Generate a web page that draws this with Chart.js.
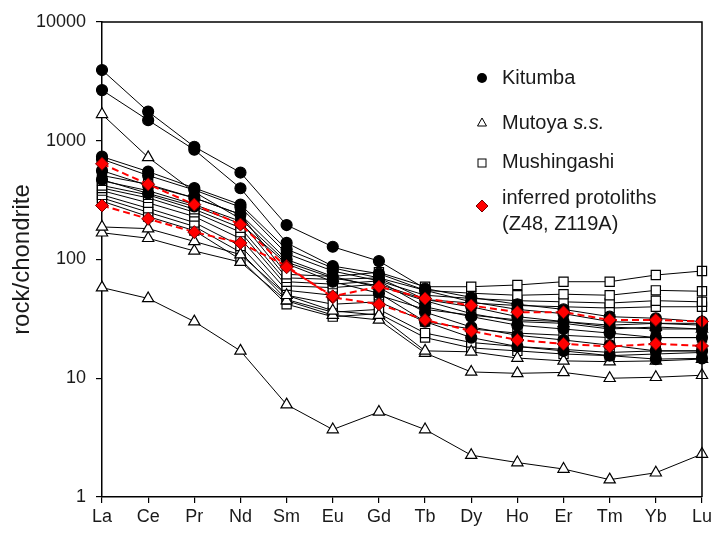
<!DOCTYPE html>
<html>
<head>
<meta charset="utf-8">
<script src="https://cdn.jsdelivr.net/npm/chart.js@4"></script>
<style>
  html, body { margin: 0; padding: 0; background: #fff; }
  #chart { display: block; }
</style>
</head>
<body>
<canvas id="chart" width="715" height="536"></canvas>
<script>
// Elements (x categories) and y ticks
const elements = ['La', 'Ce', 'Pr', 'Nd', 'Sm', 'Eu', 'Gd', 'Tb', 'Dy', 'Ho', 'Er', 'Tm', 'Yb', 'Lu'];
const yTicks = [1, 10, 100, 1000, 10000];

// Kitumba (filled circles)
const kitumba1 = [3940, 1760, 890, 540, 195, 128, 97, 57, 48, 42, 38, 33, 32, 30];
const kitumba2 = [2670, 1490, 840, 398, 138, 88, 76, 55, 44, 38, 35, 30, 29, 28];
const kitumba3 = [735, 550, 400, 290, 122, 85, 70, 46, 40, 33, 30, 27, 26, 26];
const kitumba4 = [700, 510, 385, 276, 112, 80, 66, 40, 33, 28, 26, 24, 22, 22];
const kitumba5 = [560, 420, 330, 240, 100, 72, 58, 36, 27, 23, 21, 19, 17, 17];
const kitumba6 = [470, 360, 280, 200, 92, 65, 52, 30, 22, 18.5, 17, 15.5, 14.5, 14.7];

// Mutoya s.s. (open triangles)
const mutoya1 = [1670, 725, 370, 220, 95, 70, 60, 45, 35, 30, 29, 26, 27, 26];
const mutoya2 = [188, 182, 142, 110, 50, 37, 34, 17, 16.7, 14.8, 14, 13.8, 14, 14.5];
const mutoya3 = [168, 151, 118, 95, 45, 34, 31, 16.3, 11.3, 11, 11.2, 10, 10.2, 10.6];
const mutoya4 = [58, 47, 30, 17, 6, 3.7, 5.2, 3.7, 2.25, 1.95, 1.72, 1.4, 1.6, 2.3];

// Mushingashi (open squares)
const mush1 = [510, 430, 330, 240, 75, 72, 78, 59, 59, 61, 65, 65, 74, 80];
const mush2 = [460, 380, 290, 210, 70, 68, 70, 55, 52, 50, 51, 50, 55, 54];
const mush3 = [420, 350, 265, 185, 65, 62, 66, 50, 47, 45, 44, 43, 45, 44];
const mush4 = [400, 330, 250, 170, 60, 58, 62, 46, 43, 41, 40, 39, 40, 40];
const mush5 = [380, 300, 230, 150, 55, 50, 50, 38, 34, 31, 30, 28, 29, 29];
const mush6 = [350, 270, 205, 130, 50, 42, 44, 30, 26, 24, 23, 22, 22, 22];
const mush7 = [330, 250, 190, 115, 46, 36, 38, 24, 20, 18.5, 17.5, 16.5, 17, 17];
const mush8 = [310, 230, 175, 100, 42, 33, 35, 22, 18, 17, 16, 15.5, 16, 16.5];

// inferred protoliths (red diamonds, dashed)
const protolithZ48 = [640, 430, 290, 197, 86, 49, 59, 47, 41, 36, 36, 31, 31, 30];
const protolithZ119A = [285, 220, 170, 138, 88, 48, 42, 31, 25, 21, 19.5, 18.5, 19.5, 18.7];

const FONT = "'Liberation Sans', Arial, sans-serif";

function series(data, style, order) {
    const base = {
        data: data,
        borderColor: '#000',
        borderWidth: 1,
        pointBorderWidth: 1.2,
        pointBorderColor: '#000',
        tension: 0,
        order: order
    };
    if (style === 'circle') {
        return Object.assign(base, { pointStyle: 'circle', pointRadius: 5.5, pointBackgroundColor: '#000' });
    }
    if (style === 'triangle') {
        return Object.assign(base, { pointStyle: 'triangle', pointRadius: 6.5, pointBackgroundColor: '#fff' });
    }
    if (style === 'rect') {
        return Object.assign(base, { pointStyle: 'rect', pointRadius: 6.5, pointBackgroundColor: '#fff' });
    }
    // protolith
    return Object.assign(base, {
        borderColor: '#f00', borderWidth: 2, borderDash: [7, 4],
        pointStyle: 'rectRot', pointRadius: 6.5, pointBackgroundColor: '#f00',
        pointBorderColor: '#700', pointBorderWidth: 1
    });
}

const datasets = [
    ...[mush1, mush2, mush3, mush4, mush5, mush6, mush7, mush8].map(d => series(d, 'rect', 4)),
    ...[mutoya1, mutoya2, mutoya3, mutoya4].map(d => series(d, 'triangle', 3)),
    ...[kitumba1, kitumba2, kitumba3, kitumba4, kitumba5, kitumba6].map(d => series(d, 'circle', 2)),
    ...[protolithZ48, protolithZ119A].map(d => series(d, 'diamond', 1))
];

// frame on top and right
const framePlugin = {
    id: 'frame',
    afterDraw(chart) {
        const { ctx, chartArea: a } = chart;
        ctx.save();
        ctx.strokeStyle = '#000';
        ctx.lineWidth = 1.5;
        ctx.beginPath();
        ctx.moveTo(a.left, a.top);
        ctx.lineTo(a.right, a.top);
        ctx.lineTo(a.right, a.bottom);
        ctx.stroke();
        ctx.restore();
    }
};

// legend drawn in the upper right
const legendPlugin = {
    id: 'customLegend',
    afterDraw(chart) {
        const ctx = chart.ctx;
        const mx = 482, tx = 502;
        ctx.save();
        ctx.fillStyle = '#1a1a1a';
        ctx.textBaseline = 'middle';
        ctx.font = '20px ' + FONT;

        // Kitumba
        ctx.beginPath();
        ctx.arc(mx, 78, 5, 0, Math.PI * 2);
        ctx.fillStyle = '#000';
        ctx.fill();
        ctx.fillStyle = '#1a1a1a';
        ctx.fillText('Kitumba', tx, 78);

        // Mutoya s.s.
        ctx.strokeStyle = '#000';
        ctx.lineWidth = 1;
        ctx.beginPath();
        ctx.moveTo(mx, 118);
        ctx.lineTo(mx + 4.5, 126);
        ctx.lineTo(mx - 4.5, 126);
        ctx.closePath();
        ctx.fillStyle = '#fff';
        ctx.fill();
        ctx.stroke();
        ctx.fillStyle = '#1a1a1a';
        ctx.fillText('Mutoya ', tx, 123);
        const w = ctx.measureText('Mutoya ').width;
        ctx.font = 'italic 20px ' + FONT;
        ctx.fillText('s.s.', tx + w, 123);
        ctx.font = '20px ' + FONT;

        // Mushingashi
        ctx.fillStyle = '#fff';
        ctx.fillRect(mx - 4, 159, 8, 8);
        ctx.strokeRect(mx - 4, 159, 8, 8);
        ctx.fillStyle = '#1a1a1a';
        ctx.fillText('Mushingashi', tx, 162);

        // inferred protoliths
        ctx.beginPath();
        ctx.moveTo(mx, 200);
        ctx.lineTo(mx + 6, 206);
        ctx.lineTo(mx, 212);
        ctx.lineTo(mx - 6, 206);
        ctx.closePath();
        ctx.fillStyle = '#f00';
        ctx.fill();
        ctx.strokeStyle = '#700';
        ctx.stroke();
        ctx.fillStyle = '#1a1a1a';
        ctx.fillText('inferred protoliths', tx, 198);
        ctx.fillText('(Z48, Z119A)', tx, 224);
        ctx.restore();
    }
};

new Chart(document.getElementById('chart'), {
    type: 'line',
    data: { labels: elements, datasets: datasets },
    plugins: [framePlugin, legendPlugin],
    options: {
        responsive: false,
        animation: false,
        devicePixelRatio: 1,
        layout: { padding: { left: 0, top: 22, right: 13, bottom: 0 } },
        plugins: { legend: { display: false }, tooltip: { enabled: false } },
        scales: {
            x: {
                type: 'category',
                offset: false,
                grid: { drawOnChartArea: false, drawTicks: true, tickLength: 6, color: '#000', lineWidth: 1.2 },
                border: { display: true, color: '#000', width: 1.5 },
                ticks: { color: '#1a1a1a', font: { family: FONT, size: 18 }, padding: 3, maxRotation: 0, autoSkip: false },
                afterFit(scale) { scale.height = 39; }
            },
            y: {
                type: 'logarithmic',
                min: 1,
                max: 10000,
                grid: { drawOnChartArea: false, drawTicks: true, tickLength: 6, color: '#000', lineWidth: 1.2 },
                border: { display: true, color: '#000', width: 1.5 },
                ticks: {
                    color: '#1a1a1a',
                    font: { family: FONT, size: 18 },
                    padding: 10,
                    callback: v => String(v)
                },
                afterBuildTicks(scale) { scale.ticks = yTicks.map(v => ({ value: v })); },
                title: {
                    display: true,
                    text: 'rock/chondrite',
                    color: '#1a1a1a',
                    font: { family: FONT, size: 24 },
                    padding: { top: 8, bottom: 0 }
                },
                afterFit(scale) { scale.width = 102; }
            }
        }
    }
});
</script>
</body>
</html>
